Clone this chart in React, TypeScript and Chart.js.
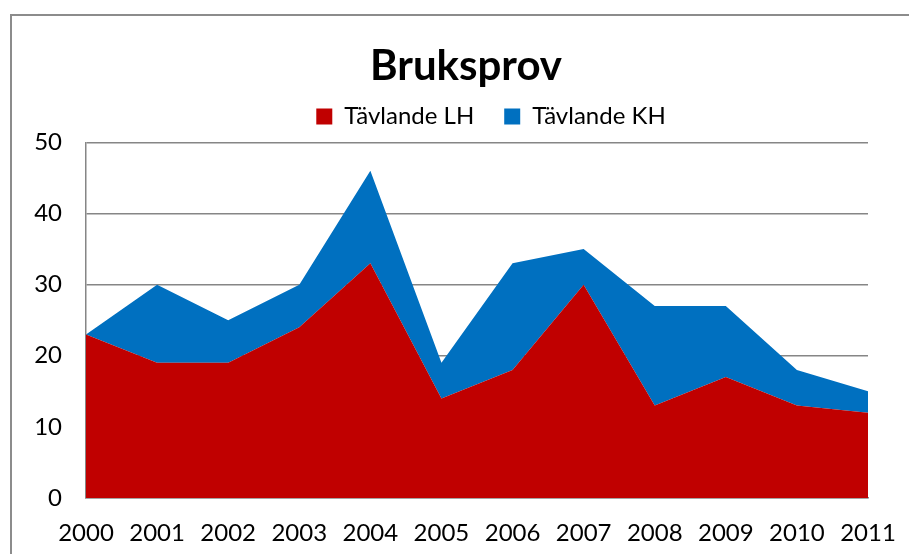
import React, { useEffect, useRef } from "react";
import { Chart, registerables } from "chart.js";

Chart.register(...registerables);

const years = ["2000", "2001", "2002", "2003", "2004", "2005", "2006", "2007", "2008", "2009", "2010", "2011"];
const tavlandeLH = [23, 19, 19, 24, 33, 14, 18, 30, 13, 17, 13, 12];
const tavlandeKH = [0, 11, 6, 6, 13, 5, 15, 5, 14, 10, 5, 3];
const seriesNames = ["Tävlande LH", "Tävlande KH"];
const seriesColors = ["#C00000", "#0070C0"];
const titleText = "Bruksprov";

const FONT = "Lato, 'Open Sans', sans-serif";

const frame = {
  id: "frame",
  beforeDraw(chart: any) {
    const ctx = chart.ctx;
    ctx.save();
    ctx.fillStyle = "#ffffff";
    ctx.fillRect(0, 0, chart.width, chart.height);
    ctx.strokeStyle = "#8c8c8c";
    ctx.lineWidth = 2;
    ctx.beginPath();
    ctx.moveTo(11, chart.height + 5);
    ctx.lineTo(11, 15);
    ctx.lineTo(chart.width + 5, 15);
    ctx.stroke();
    ctx.restore();
  },
};

// nudge title and legend boxes horizontally / vertically to match the original's placement
const nudge = {
  id: "nudge",
  afterLayout(chart: any) {
    const t = chart.titleBlock;
    if (t) {
      t.left += 32;
      t.right += 32;
    }
    const l = chart.legend;
    if (l) {
      l.left += 57;
      l.right += 57;
      l.top -= 4;
      l.bottom -= 4;
    }
  },
};

export default function App() {
  const ref = useRef<HTMLCanvasElement | null>(null);
  useEffect(() => {
    if (!ref.current) return;
    const chart = new Chart(ref.current, {
      type: "line",
      data: {
        labels: years,
        datasets: [
          {
            label: seriesNames[0],
            data: tavlandeLH,
            backgroundColor: seriesColors[0],
            borderColor: seriesColors[0],
            borderWidth: 0,
            pointRadius: 0,
            fill: "origin",
            tension: 0,
          },
          {
            label: seriesNames[1],
            data: tavlandeKH,
            backgroundColor: seriesColors[1],
            borderColor: seriesColors[1],
            borderWidth: 0,
            pointRadius: 0,
            fill: "-1",
            tension: 0,
          },
        ],
      },
      options: {
        animation: false,
        responsive: false,
        maintainAspectRatio: false,
        layout: { padding: { left: 0, right: 41, top: 0, bottom: 0 } },
        plugins: {
          title: {
            display: true,
            text: titleText,
            color: "#000",
            font: { family: FONT, size: 42, weight: "bold" },
            padding: { top: 41, bottom: -13 },
          },
          legend: {
            display: true,
            labels: {
              color: "#000",
              font: { family: FONT, size: 24 },
              boxWidth: 16,
              boxHeight: 16,
              padding: 30,
            },
          },
          tooltip: { enabled: false },
        },
        scales: {
          x: {
            stacked: true,
            offset: false,
            grid: { display: false, drawTicks: false },
            border: { display: true, color: "#868686", width: 1.5 },
            ticks: { color: "#000", font: { family: FONT, size: 24 }, padding: 21, maxRotation: 0, autoSkip: false },
            afterFit(scale: any) {
              scale.height = 56;
              scale.paddingLeft = 0;
              scale.paddingRight = 0;
            },
          },
          y: {
            stacked: true,
            min: 0,
            max: 50,
            grid: { color: "#868686", lineWidth: 1.5, drawTicks: false },
            border: { display: true, color: "#868686", width: 1.5 },
            ticks: { stepSize: 10, color: "#000", font: { family: FONT, size: 24 }, padding: 24 },
            afterFit(scale: any) {
              scale.width = 86;
            },
          },
        },
      },
      plugins: [frame, nudge],
    });
    return () => chart.destroy();
  }, []);
  return (
    <div style={{ position: "fixed", left: 0, top: 0, width: 909, height: 554 }}>
      <canvas ref={ref} width={909} height={554} style={{ width: 909, height: 554 }} />
    </div>
  );
}
